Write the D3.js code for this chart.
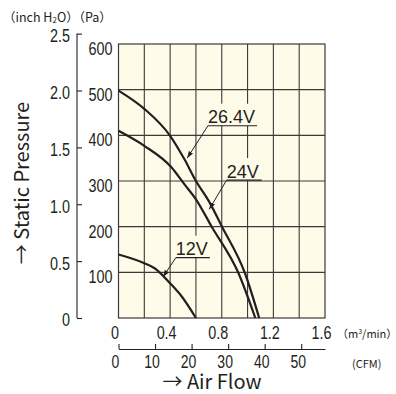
<!DOCTYPE html>
<html>
<head>
  <meta charset="utf-8">
  <title>Static pressure vs air flow</title>
  <script src="https://cdn.jsdelivr.net/npm/d3@7"></script>
  <style>
    body { margin: 0; background: #fff; }
    .num { font-family: "Liberation Sans", Arial, sans-serif; fill: #231f20; }
    .lbl { font-family: "Liberation Sans", Arial, sans-serif; fill: #231f20; }
    .jp { font-family: "Noto Sans CJK JP", "Noto Sans", sans-serif; fill: #231f20; }
  </style>
</head>
<body>
  <svg width="396" height="394" id="mainsvg"></svg>
  <script>
    // curves (flow in m3/min, pressure in Pa)
    const flow264 = [0, 0.2, 0.4, 0.51, 0.6, 0.7, 0.8, 0.98, 1.09];
    const pa264 = [498, 458, 399, 348, 300, 256, 201, 98, 0];
    const flow24 = [0, 0.2, 0.41, 0.51, 0.6, 0.72, 0.93, 1.06];
    const pa24 = [410, 377, 330, 293, 260, 201, 98, 0];
    const flow12 = [0, 0.2, 0.28, 0.4, 0.49, 0.6];
    const pa12 = [139, 120, 109, 76, 47, 0];

    // labels: underline start/end x, underline y, arrow tip
    const voltLabels = ['26.4V', '24V', '12V'];
    const labelX0 = [0.693, 0.838, 0.444];
    const labelX1 = [1.074, 1.11, 0.708];
    const labelY = [421, 302, 132];
    const tipX = [0.532, 0.703, 0.345];
    const tipY = [350, 238, 90];

    const paTicks = [100, 200, 300, 400, 500, 600];
    const inchTicks = [0, 0.5, 1.0, 1.5, 2.0, 2.5];
    const m3Ticks = [0, 0.4, 0.8, 1.2, 1.6];
    const cfmTicks = [0, 10, 20, 30, 40, 50];

    const PA_PER_INCH = 249.09;
    const CFM_PER_M3 = 35.315;

    const svg = d3.select('#mainsvg');
    const ink = '#231f20';
    const bg = '#fffbe9';

    const x = d3.scaleLinear().domain([0, 1.6]).range([118.5, 325]);
    const y = d3.scaleLinear().domain([0, 600]).range([318, 44]);
    const yInch = d3.scaleLinear().domain([0, 600 / PA_PER_INCH]).range([318, 44]);
    const xCfm = d3.scaleLinear().domain([0, 1.6 * CFM_PER_M3]).range([118.5, 325]);

    const fmt = d => d === 0 ? '0' : d.toFixed(1);

    // condensed look: squeeze the digits to the width seen in the picture
    const squeeze = (sel, size, digitW) => sel
      .attr('class', 'num').attr('font-family', null).attr('font-size', size)
      .attr('textLength', function () {
        const s = this.textContent;
        return s.replace(/\./g, '').length * digitW + (s.includes('.') ? digitW * 0.5 : 0);
      })
      .attr('lengthAdjust', 'spacingAndGlyphs');

    // plot background
    svg.append('rect')
      .attr('x', x(0)).attr('y', y(600))
      .attr('width', x(1.6) - x(0)).attr('height', y(0) - y(600))
      .attr('fill', bg);

    // grid
    const grid = svg.append('g').attr('stroke', '#3a3a3a').attr('stroke-width', 1.1);
    grid.selectAll('.v').data(d3.range(0.2, 1.5, 0.2)).join('line')
      .attr('x1', d => x(d)).attr('x2', d => x(d))
      .attr('y1', y(0)).attr('y2', y(600));
    grid.selectAll('.h').data(d3.range(100, 501, 100)).join('line')
      .attr('x1', x(0)).attr('x2', x(1.6))
      .attr('y1', d => y(d)).attr('y2', d => y(d));
    svg.append('rect')
      .attr('x', x(0)).attr('y', y(600))
      .attr('width', x(1.6) - x(0)).attr('height', y(0) - y(600))
      .attr('fill', 'none').attr('stroke', '#3a3a3a').attr('stroke-width', 1.2);

    // curves
    const line = d3.line().x(d => x(d[0])).y(d => y(d[1])).curve(d3.curveMonotoneX);
    const curves = [d3.zip(flow264, pa264), d3.zip(flow24, pa24), d3.zip(flow12, pa12)];
    svg.append('g').selectAll('path').data(curves).join('path')
      .attr('d', line)
      .attr('fill', 'none').attr('stroke', ink).attr('stroke-width', 2.2);

    // labels with leader arrows
    svg.append('defs').append('marker')
      .attr('id', 'arr').attr('viewBox', '0 0 10 10')
      .attr('refX', 10).attr('refY', 5)
      .attr('markerWidth', 7).attr('markerHeight', 7)
      .attr('orient', 'auto')
      .append('path').attr('d', 'M0,1.5 L10,5 L0,8.5 Z').attr('fill', ink);

    const lab = svg.append('g').selectAll('g').data(voltLabels).join('g');
    lab.append('rect')
      .attr('x', (d, i) => x(labelX0[i]) - 2)
      .attr('y', (d, i) => y(labelY[i]) - 22)
      .attr('width', (d, i) => x(labelX1[i]) - x(labelX0[i]) + 4)
      .attr('height', 22)
      .attr('fill', bg);
    lab.append('text')
      .attr('class', 'lbl')
      .attr('x', (d, i) => x(labelX0[i]))
      .attr('y', (d, i) => y(labelY[i]) - 2.5)
      .attr('font-size', 18)
      .text(d => d);
    lab.append('line')
      .attr('x1', (d, i) => x(labelX0[i])).attr('x2', (d, i) => x(labelX1[i]))
      .attr('y1', (d, i) => y(labelY[i])).attr('y2', (d, i) => y(labelY[i]))
      .attr('stroke', ink).attr('stroke-width', 1.2);
    lab.append('line')
      .attr('x1', (d, i) => x(labelX0[i])).attr('y1', (d, i) => y(labelY[i]))
      .attr('x2', (d, i) => x(tipX[i])).attr('y2', (d, i) => y(tipY[i]))
      .attr('stroke', ink).attr('stroke-width', 1)
      .attr('marker-end', 'url(#arr)');

    // Pa axis
    const paAxis = svg.append('g')
      .attr('transform', `translate(${x(0)},0)`)
      .call(d3.axisLeft(y).tickValues(paTicks).tickSize(0).tickPadding(6));
    paAxis.select('.domain').remove();
    squeeze(paAxis.selectAll('.tick text'), 19, 8).attr('dy', '0.55em');

    // inch H2O axis
    const inchAxis = svg.append('g')
      .attr('transform', 'translate(77,0)')
      .call(d3.axisLeft(yInch).tickValues(inchTicks).tickFormat(fmt)
        .tickSizeInner(-5).tickSizeOuter(0).tickPadding(7));
    inchAxis.select('.domain').attr('d', `M0,${yInch(0)}V${yInch(2.5)}`);
    squeeze(inchAxis.selectAll('.tick text'), 19, 8).attr('dy', '0.42em');

    // m3/min axis
    const m3Axis = svg.append('g')
      .attr('transform', `translate(0,${y(0)})`)
      .call(d3.axisBottom(x).tickValues(m3Ticks).tickFormat(fmt).tickSize(0).tickPadding(8));
    m3Axis.select('.domain').remove();
    squeeze(m3Axis.selectAll('.tick text'), 19, 8).attr('dx', -4);

    // CFM axis
    const cfmAxis = svg.append('g')
      .attr('transform', 'translate(0,349)')
      .call(d3.axisBottom(xCfm).tickValues(cfmTicks).tickSizeInner(-5).tickSizeOuter(0).tickPadding(6));
    squeeze(cfmAxis.selectAll('.tick text'), 18, 7.8).attr('dx', -3.5);

    svg.selectAll('.domain, .tick line').attr('stroke', ink).attr('stroke-width', 1.1);

    // units
    svg.append('text').attr('class', 'jp').attr('font-size', 11)
      .attr('x', 337).attr('y', 338).html('（m<tspan font-size="7" dy="-4">3</tspan><tspan dy="4">/min）</tspan>');
    svg.append('text').attr('class', 'jp').attr('font-size', 11)
      .attr('x', 352).attr('y', 368).text('(CFM)');
    svg.append('text').attr('class', 'jp').attr('font-size', 12.5)
      .attr('x', 3).attr('y', 22)
      .html('（inch H<tspan font-size="8" dy="1">2</tspan><tspan dy="-1">O）（Pa）</tspan>');

    // axis titles
    svg.append('text').attr('class', 'jp').attr('font-size', 20)
      .attr('text-anchor', 'middle')
      .attr('transform', 'translate(29,183) rotate(-90)')
      .text('→ Static Pressure');
    svg.append('text').attr('class', 'jp').attr('font-size', 20)
      .attr('text-anchor', 'middle')
      .attr('x', 212).attr('y', 389)
      .text('→ Air Flow');
  </script>
</body>
</html>
